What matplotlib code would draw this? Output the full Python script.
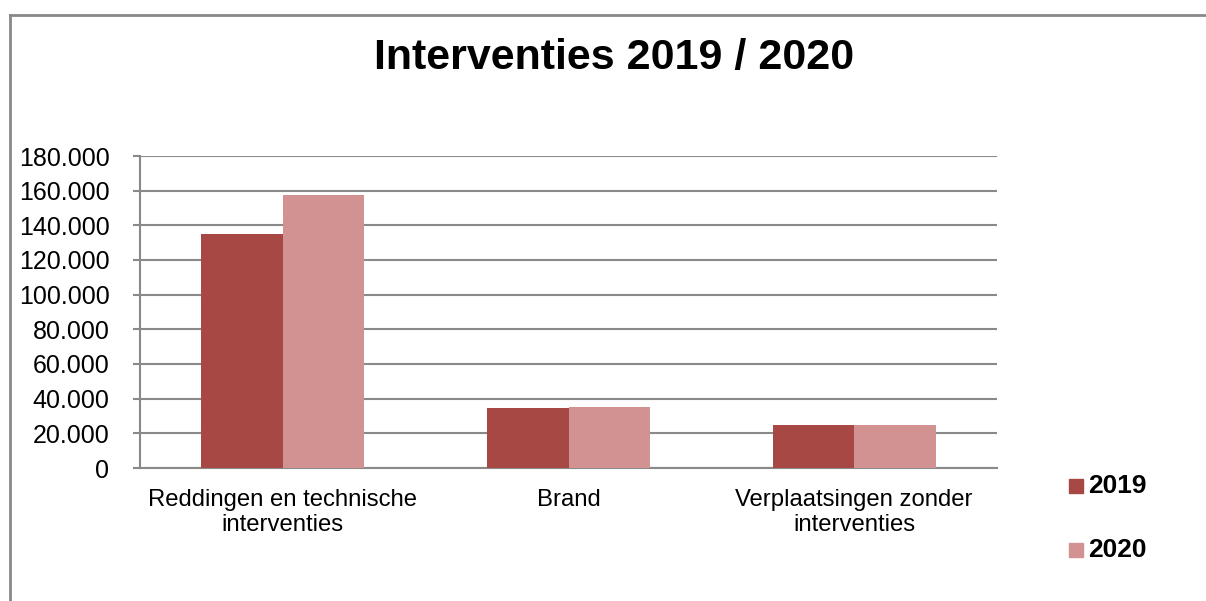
import matplotlib
matplotlib.use("Agg")
import matplotlib.pyplot as plt
from matplotlib.lines import Line2D
from matplotlib.patches import Rectangle
import numpy as np

plt.rcParams['font.family'] = ['Liberation Sans', 'DejaVu Sans']

categories = ["Reddingen en technische\ninterventies", "Brand", "Verplaatsingen zonder\ninterventies"]
series_names = ["2019", "2020"]
values_2019 = [135000, 34900, 24800]
values_2020 = [157500, 35200, 24800]
yticks = [0, 20000, 40000, 60000, 80000, 100000, 120000, 140000, 160000, 180000]
ytick_labels = ["0", "20.000", "40.000", "60.000", "80.000", "100.000", "120.000", "140.000", "160.000", "180.000"]
title = "Interventies 2019 / 2020"

c2019 = "#A84845"
c2020 = "#D39292"
gray = "#898989"

fig = plt.figure(figsize=(12.06, 6.01), dpi=100)
ax = fig.add_axes([140/1206, 1-468/601, (997-140)/1206, (468-156)/601])

x = np.arange(len(categories))
w = 0.285
ax.bar(x - w/2, values_2019, width=w, color=c2019, zorder=3, label=series_names[0])
ax.bar(x + w/2, values_2020, width=w, color=c2020, zorder=3, label=series_names[1])

ax.set_xlim(-0.5, len(categories) - 0.5)
ax.set_ylim(0, 180000)
ax.set_yticks(yticks)
ax.set_yticklabels(ytick_labels, fontsize=18)
ax.set_xticks(x)
ax.set_xticklabels(categories, fontsize=17.2, linespacing=1.2)
ax.tick_params(axis='x', length=0, pad=15)
ax.tick_params(axis='y', length=5, width=1.5, color=gray, pad=17)
ax.grid(axis='y', color=gray, linewidth=1.5, zorder=0)
for s in ['top', 'right']:
    ax.spines[s].set_visible(False)
for s in ['left', 'bottom']:
    ax.spines[s].set_color(gray)
    ax.spines[s].set_linewidth(1.5)

fig.text(614/1206, 1-58/601, title, fontsize=31, fontweight='bold', ha='center', va='center')

# legend
for i, (name, col) in enumerate(zip(series_names, [c2019, c2020])):
    yc = 486 + i * 64
    fig.add_artist(Rectangle((1069/1206, 1-(yc+7)/601), 14/1206, 14/601,
                             transform=fig.transFigure, color=col))
    fig.text(1088/1206, 1-yc/601, name, fontsize=19, fontweight='bold', ha='left', va='center')

# outer border (top and left)
fig.add_artist(Line2D([10/1206, 10/1206], [0, 1-15/601], transform=fig.transFigure, color=gray, linewidth=2))
fig.add_artist(Line2D([10/1206, 1], [1-15/601, 1-15/601], transform=fig.transFigure, color=gray, linewidth=2))

fig.savefig("out.png", dpi=100)
